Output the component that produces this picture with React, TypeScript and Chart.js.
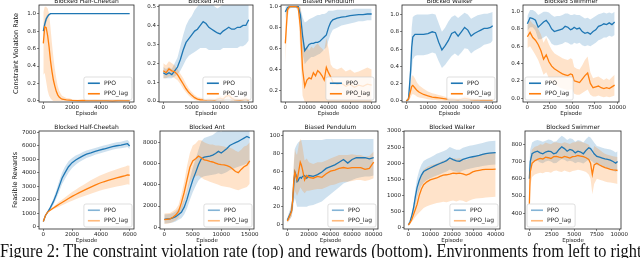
import React, { useEffect, useLayoutEffect, useRef } from 'react';
import { Chart, registerables } from 'chart.js';

Chart.register(...registerables);

// ---------------- tick labels ----------------
const hcEpTicks = [0, 2000, 4000, 6000];
const antEpTicks = [0, 5000, 10000, 15000];
const penEpTicks = [0, 20000, 40000, 60000, 80000];
const walkEpTicks = [0, 10000, 20000, 30000, 40000];
const swimEpTicks = [0, 2500, 5000, 7500, 10000];
const rateTicks = [0, 0.2, 0.4, 0.6, 0.8, 1.0];
const antRateTicks = [0, 0.1, 0.2, 0.3, 0.4, 0.5];
const penRateTicks = [0.2, 0.4, 0.6, 0.8, 1.0];
const hcRewTicks = [0, 1000, 2000, 3000, 4000, 5000, 6000, 7000];
const antRewTicks = [0, 2000, 4000, 6000, 8000];
const penRewTicks = [0, 20, 40, 60, 80, 100];
const walkRewTicks = [0, 500, 1000, 1500, 2000, 2500, 3000];
const swimRewTicks = [400, 500, 600, 700, 800];

const seriesNames = ['PPO', 'PPO_lag'];
const captionText = 'Figure 2: The constraint violation rate (top) and rewards (bottom). Environments from left to right:';

// ---------------- Blocked Half-Cheetah: violation rate ----------------
const hcRateEp = [0, 100, 200, 300, 400, 500, 600, 700, 800, 900, 1000, 1100, 1200, 1300, 1400, 1600, 1800, 2000, 2400, 2800, 3200, 3600, 4000, 4400, 4800, 5200, 5600, 6000];
const hcRatePPO = [0.80, 0.88, 0.94, 0.97, 0.99, 1, 1, 1, 1, 1, 1, 1, 1, 1, 1, 1, 1, 1, 1, 1, 1, 1, 1, 1, 1, 1, 1, 1];
const hcRatePPOLo = [0.72, 0.82, 0.90, 0.95, 0.98, 0.995, 1, 1, 1, 1, 1, 1, 1, 1, 1, 1, 1, 1, 1, 1, 1, 1, 1, 1, 1, 1, 1, 1];
const hcRatePPOHi = [0.88, 0.93, 0.97, 0.99, 1, 1, 1, 1, 1, 1, 1, 1, 1, 1, 1, 1, 1, 1, 1, 1, 1, 1, 1, 1, 1, 1, 1, 1];
const hcRateLag = [0.66, 0.85, 0.84, 0.75, 0.62, 0.46, 0.34, 0.24, 0.17, 0.11, 0.07, 0.045, 0.03, 0.02, 0.018, 0.012, 0.01, 0.006, 0.004, 0.005, 0.003, 0.006, 0.003, 0.004, 0.002, 0.005, 0.003, 0.004];
const hcRateLagLo = [0.30, 0.32, 0.22, 0.12, 0.06, 0.03, 0.01, 0, 0, 0, 0, 0, 0, 0, 0, 0, 0, 0, 0, 0, 0, 0, 0, 0, 0, 0, 0, 0];
const hcRateLagHi = [1.02, 1.08, 1.08, 1.06, 1.0, 0.84, 0.66, 0.50, 0.37, 0.26, 0.17, 0.12, 0.085, 0.06, 0.05, 0.035, 0.03, 0.02, 0.015, 0.015, 0.01, 0.015, 0.01, 0.012, 0.01, 0.012, 0.01, 0.012];

// ---------------- Blocked Ant: violation rate ----------------
const antRateEp = [0, 500, 1000, 1500, 2000, 2500, 3000, 3500, 4000, 4500, 5000, 5500, 6000, 6500, 7000, 7500, 8000, 8500, 9000, 9500, 10000, 10500, 11000, 11500, 12000, 12500, 13000, 13500, 14000, 14500, 15000];
const antRatePPO = [0.15, 0.14, 0.15, 0.14, 0.16, 0.18, 0.22, 0.27, 0.31, 0.33, 0.35, 0.37, 0.38, 0.40, 0.42, 0.41, 0.39, 0.38, 0.37, 0.36, 0.355, 0.37, 0.38, 0.39, 0.38, 0.38, 0.39, 0.39, 0.40, 0.40, 0.43];
const antRatePPOLo = [0.12, 0.12, 0.12, 0.12, 0.13, 0.14, 0.16, 0.19, 0.22, 0.24, 0.25, 0.26, 0.27, 0.28, 0.28, 0.28, 0.27, 0.27, 0.27, 0.27, 0.27, 0.28, 0.28, 0.28, 0.28, 0.28, 0.28, 0.29, 0.29, 0.30, 0.32];
const antRatePPOHi = [0.18, 0.17, 0.18, 0.17, 0.20, 0.23, 0.29, 0.35, 0.40, 0.43, 0.45, 0.48, 0.50, 0.52, 0.55, 0.55, 0.53, 0.52, 0.50, 0.49, 0.50, 0.51, 0.52, 0.51, 0.51, 0.52, 0.52, 0.53, 0.53, 0.54, 0.56];
const antRateLag = [0.16, 0.15, 0.17, 0.16, 0.155, 0.14, 0.115, 0.09, 0.065, 0.045, 0.03, 0.018, 0.01, 0.007, 0.006, 0.005, 0.008, 0.006, 0.005, 0.01, 0.015, 0.01, 0.025, 0.03, 0.015, 0.008, 0.006, 0.005, 0.008, 0.01, 0.005];
const antRateLagLo = [0.12, 0.12, 0.13, 0.13, 0.12, 0.11, 0.09, 0.065, 0.045, 0.028, 0.015, 0.006, 0.002, 0, 0, 0, 0, 0, 0, 0, 0, 0, 0.005, 0.008, 0, 0, 0, 0, 0, 0, 0];
const antRateLagHi = [0.20, 0.19, 0.21, 0.20, 0.19, 0.17, 0.145, 0.12, 0.09, 0.065, 0.048, 0.032, 0.022, 0.018, 0.016, 0.014, 0.02, 0.017, 0.014, 0.022, 0.03, 0.024, 0.045, 0.05, 0.03, 0.02, 0.017, 0.014, 0.02, 0.022, 0.014];

// ---------------- Biased Pendulum: violation rate ----------------
const penRateEp = [0, 2000, 4000, 6000, 8000, 10000, 12000, 14000, 16000, 18000, 20000, 22000, 24000, 26000, 28000, 30000, 32000, 34000, 36000, 38000, 40000, 42000, 44000, 48000, 52000, 56000, 60000, 64000, 68000, 72000, 76000, 80000];
const penRatePPO = [0.95, 0.99, 1.0, 1.0, 1.0, 1.0, 1.0, 0.92, 0.72, 0.58, 0.61, 0.64, 0.65, 0.65, 0.66, 0.66, 0.67, 0.69, 0.71, 0.73, 0.80, 0.85, 0.875, 0.89, 0.90, 0.905, 0.915, 0.92, 0.925, 0.925, 0.93, 0.93];
const penRatePPOLo = [0.88, 0.96, 0.99, 0.99, 0.99, 0.99, 0.97, 0.80, 0.55, 0.45, 0.48, 0.50, 0.52, 0.52, 0.53, 0.54, 0.55, 0.57, 0.59, 0.61, 0.68, 0.74, 0.78, 0.80, 0.82, 0.83, 0.84, 0.85, 0.86, 0.86, 0.87, 0.87];
const penRatePPOHi = [1.0, 1.01, 1.01, 1.01, 1.01, 1.01, 1.01, 0.99, 0.90, 0.85, 0.86, 0.88, 0.89, 0.90, 0.91, 0.92, 0.92, 0.93, 0.93, 0.94, 0.96, 0.96, 0.96, 0.97, 0.97, 0.97, 0.97, 0.98, 0.98, 0.98, 0.98, 0.98];
const penRateLag = [0.65, 0.97, 1.0, 1.0, 1.0, 1.0, 0.99, 0.80, 0.40, 0.24, 0.30, 0.32, 0.31, 0.37, 0.34, 0.39, 0.37, 0.34, 0.30, 0.42, 0.37, 0.33, 0.28, 0.26, 0.27, 0.24, 0.26, 0.23, 0.25, 0.24, 0.26, 0.25];
const penRateLagLo = [0.45, 0.90, 0.98, 0.99, 0.99, 0.99, 0.95, 0.55, 0.15, 0.09, 0.08, 0.08, 0.08, 0.08, 0.08, 0.08, 0.08, 0.08, 0.08, 0.08, 0.08, 0.08, 0.08, 0.08, 0.08, 0.08, 0.08, 0.08, 0.08, 0.08, 0.08, 0.08];
const penRateLagHi = [0.85, 1.01, 1.01, 1.01, 1.01, 1.01, 1.01, 1.0, 0.80, 0.60, 0.62, 0.58, 0.62, 0.60, 0.63, 0.65, 0.62, 0.60, 0.58, 0.70, 0.60, 0.45, 0.42, 0.40, 0.42, 0.38, 0.40, 0.37, 0.38, 0.40, 0.42, 0.40];

// ---------------- Blocked Walker: violation rate ----------------
const walkRateEp = [0, 1000, 2000, 2500, 3000, 4000, 5000, 6000, 8000, 10000, 12000, 13500, 15000, 16500, 18000, 19500, 21000, 22500, 24000, 25500, 27000, 28500, 30000, 31500, 33000, 34500, 36000, 37500, 39000, 40000];
const walkRatePPO = [0.0, 0.02, 0.35, 0.62, 0.74, 0.77, 0.77, 0.77, 0.77, 0.78, 0.80, 0.79, 0.68, 0.59, 0.64, 0.70, 0.78, 0.80, 0.75, 0.80, 0.85, 0.82, 0.75, 0.78, 0.80, 0.82, 0.84, 0.84, 0.85, 0.87];
const walkRatePPOLo = [0, 0, 0.15, 0.35, 0.48, 0.52, 0.53, 0.53, 0.53, 0.54, 0.56, 0.55, 0.46, 0.38, 0.42, 0.47, 0.52, 0.55, 0.52, 0.56, 0.61, 0.60, 0.55, 0.58, 0.60, 0.62, 0.65, 0.66, 0.67, 0.70];
const walkRatePPOHi = [0.01, 0.05, 0.55, 0.85, 0.97, 0.99, 1.0, 1.0, 1.0, 1.0, 1.01, 1.0, 0.90, 0.80, 0.85, 0.92, 0.97, 0.99, 0.96, 0.99, 1.02, 1.0, 0.95, 0.97, 0.99, 1.0, 1.01, 1.01, 1.02, 1.03];
const walkRateLag = [0.0, 0.02, 0.12, 0.17, 0.18, 0.15, 0.12, 0.10, 0.075, 0.06, 0.045, 0.04, 0.035, 0.03, 0.025, 0.02, 0.02, 0.018, 0.015, 0.02, 0.03, 0.025, 0.015, 0.012, 0.015, 0.01, 0.012, 0.01, 0.012, 0.01];
const walkRateLagLo = [0, 0, 0.04, 0.07, 0.08, 0.07, 0.05, 0.04, 0.03, 0.02, 0.01, 0.01, 0.005, 0.005, 0, 0, 0, 0, 0, 0, 0, 0, 0, 0, 0, 0, 0, 0, 0, 0];
const walkRateLagHi = [0.01, 0.05, 0.20, 0.28, 0.30, 0.26, 0.21, 0.18, 0.14, 0.11, 0.09, 0.08, 0.07, 0.06, 0.05, 0.045, 0.04, 0.04, 0.035, 0.04, 0.055, 0.05, 0.035, 0.03, 0.03, 0.025, 0.025, 0.02, 0.025, 0.02];

// ---------------- Blocked Swimmer: violation rate ----------------
const swimRateEp = [0, 300, 600, 900, 1200, 1500, 1800, 2100, 2400, 2700, 3000, 3300, 3600, 3900, 4200, 4500, 4800, 5000, 5200, 5500, 5800, 6100, 6400, 6700, 7000, 7300, 7600, 7900, 8200, 8500, 8800, 9100, 9400, 9700];
const swimRatePPO = [0.86, 0.93, 0.92, 0.90, 0.82, 0.85, 0.88, 0.90, 0.86, 0.80, 0.77, 0.78, 0.79, 0.80, 0.83, 0.82, 0.79, 0.80, 0.82, 0.80, 0.81, 0.77, 0.75, 0.76, 0.74, 0.77, 0.79, 0.83, 0.84, 0.86, 0.85, 0.87, 0.85, 0.88];
const swimRatePPOLo = [0.78, 0.82, 0.82, 0.78, 0.68, 0.68, 0.70, 0.72, 0.68, 0.63, 0.61, 0.61, 0.62, 0.63, 0.65, 0.64, 0.62, 0.62, 0.64, 0.63, 0.64, 0.61, 0.60, 0.61, 0.60, 0.62, 0.64, 0.67, 0.68, 0.70, 0.70, 0.72, 0.71, 0.73];
const swimRatePPOHi = [0.95, 1.02, 1.02, 1.0, 0.96, 0.98, 1.0, 1.0, 0.99, 0.96, 0.94, 0.95, 0.95, 0.96, 0.98, 0.98, 0.96, 0.96, 0.97, 0.96, 0.96, 0.94, 0.92, 0.93, 0.91, 0.93, 0.95, 0.97, 0.98, 0.99, 0.98, 0.99, 0.98, 1.0];
const swimRateLag = [0.71, 0.76, 0.70, 0.67, 0.62, 0.55, 0.45, 0.50, 0.42, 0.37, 0.34, 0.32, 0.30, 0.28, 0.27, 0.26, 0.28, 0.27, 0.20, 0.19, 0.18, 0.22, 0.26, 0.29, 0.17, 0.12, 0.13, 0.14, 0.12, 0.11, 0.12, 0.11, 0.13, 0.15];
const swimRateLagLo = [0.58, 0.60, 0.55, 0.50, 0.44, 0.36, 0.27, 0.30, 0.23, 0.19, 0.16, 0.14, 0.12, 0.11, 0.10, 0.09, 0.10, 0.10, 0.05, 0.04, 0.04, 0.06, 0.08, 0.10, 0.04, 0.02, 0.02, 0.03, 0.02, 0.01, 0.02, 0.01, 0.02, 0.03];
const swimRateLagHi = [0.84, 0.90, 0.86, 0.84, 0.80, 0.74, 0.64, 0.70, 0.62, 0.56, 0.52, 0.50, 0.48, 0.46, 0.45, 0.44, 0.46, 0.45, 0.36, 0.34, 0.33, 0.38, 0.44, 0.48, 0.30, 0.23, 0.24, 0.25, 0.23, 0.21, 0.23, 0.21, 0.24, 0.27];

// ---------------- Blocked Half-Cheetah: rewards ----------------
const hcRewEp = [0, 150, 300, 500, 700, 900, 1100, 1300, 1500, 1750, 2000, 2250, 2500, 2750, 3000, 3300, 3600, 3900, 4200, 4500, 4800, 5100, 5400, 5700, 5850, 6000];
const hcRewPPO = [400, 850, 1100, 1450, 1870, 2400, 3000, 3600, 4000, 4450, 4750, 4950, 5100, 5250, 5380, 5470, 5580, 5680, 5760, 5850, 5930, 6000, 6050, 6120, 6150, 5980];
const hcRewPPOLo = [350, 780, 1030, 1300, 1650, 2100, 2600, 3150, 3550, 4000, 4350, 4600, 4800, 4950, 5100, 5200, 5330, 5430, 5520, 5620, 5700, 5780, 5820, 5880, 5900, 5750];
const hcRewPPOHi = [450, 920, 1170, 1600, 2100, 2700, 3400, 4000, 4450, 4850, 5100, 5280, 5400, 5530, 5650, 5740, 5830, 5930, 6010, 6100, 6180, 6250, 6300, 6380, 6420, 6250];
const hcRewLag = [400, 850, 1100, 1260, 1400, 1540, 1680, 1810, 1940, 2100, 2260, 2400, 2540, 2670, 2800, 2950, 3090, 3230, 3340, 3440, 3540, 3630, 3710, 3790, 3850, 3820];
const hcRewLagLo = [370, 800, 1050, 1190, 1300, 1400, 1500, 1600, 1700, 1820, 1940, 2050, 2150, 2250, 2350, 2450, 2560, 2670, 2760, 2840, 2920, 2990, 3050, 3110, 3160, 3120];
const hcRewLagHi = [430, 900, 1150, 1330, 1500, 1680, 1860, 2020, 2180, 2380, 2580, 2750, 2930, 3090, 3250, 3450, 3620, 3790, 3920, 4040, 4160, 4270, 4370, 4470, 4540, 4520];

// ---------------- Blocked Ant: rewards ----------------
const antRewEp = [0, 500, 1000, 1500, 2000, 2500, 3000, 3500, 4000, 4500, 5000, 5500, 6000, 6500, 7000, 7500, 8000, 8500, 9000, 9500, 10000, 10500, 11000, 11500, 12000, 12500, 13000, 13500, 14000, 14500, 15000];
const antRewPPO = [750, 780, 800, 880, 1000, 1200, 1420, 1900, 2650, 3600, 4450, 5150, 5900, 6450, 6600, 6650, 6700, 6800, 6950, 7150, 7000, 7200, 7420, 7700, 7850, 7980, 8100, 8250, 8400, 8550, 8420];
const antRewPPOLo = [350, 380, 400, 450, 550, 700, 850, 1200, 1800, 2600, 3300, 3900, 4400, 4700, 4800, 4850, 4900, 4950, 5000, 5100, 5000, 5100, 5200, 5400, 5500, 5600, 5700, 5800, 5900, 6000, 5900];
const antRewPPOHi = [1200, 1220, 1250, 1350, 1500, 1750, 2050, 2650, 3500, 4600, 5600, 6400, 7300, 8100, 8400, 8500, 8600, 8700, 8900, 9100, 9000, 9200, 9300, 9400, 9500, 9500, 9500, 9500, 9500, 9500, 9500];
const antRewLag = [730, 760, 800, 950, 1150, 1500, 2300, 3300, 4500, 5650, 6250, 6450, 6700, 6550, 6350, 6300, 6200, 6150, 6050, 5950, 5900, 5880, 5800, 5700, 5500, 5250, 5150, 5450, 5700, 5850, 6250];
const antRewLagLo = [300, 330, 380, 500, 650, 900, 1500, 2300, 3300, 4200, 4700, 4800, 4900, 4700, 4500, 4400, 4300, 4200, 4100, 4000, 3900, 3850, 3800, 3750, 3650, 3550, 3500, 3600, 3700, 3800, 4100];
const antRewLagHi = [1300, 1320, 1350, 1500, 1700, 2100, 3100, 4300, 5800, 7000, 7700, 7900, 8200, 8200, 8000, 7900, 7800, 7800, 7700, 7700, 7650, 7600, 7550, 7500, 7400, 7200, 7100, 7300, 7600, 7700, 8000];

// ---------------- Biased Pendulum: rewards ----------------
const penRewEp = [0, 2000, 4000, 5000, 6000, 7000, 8000, 9000, 10000, 11000, 12000, 13000, 14000, 16000, 18000, 20000, 24000, 28000, 32000, 36000, 40000, 44000, 48000, 52000, 56000, 60000, 64000, 68000, 72000, 76000, 80000];
const penRewPPO = [5, 10, 16, 27, 45, 59, 56, 48, 49, 52, 53, 52, 54, 55, 52, 55, 54, 56, 59, 63, 65, 67, 70, 73, 69, 73, 75, 75, 75, 73.7, 75];
const penRewPPOLo = [2, 5, 9, 15, 25, 30, 25, 20, 20, 20, 20, 20, 20, 20, 20, 21, 22, 24, 26, 30, 34, 38, 42, 46, 48, 50, 52, 53, 54, 54, 55];
const penRewPPOHi = [8, 15, 24, 40, 66, 85, 88, 90, 92, 93, 94, 95, 95, 95, 95, 95, 95, 95, 95, 96, 96, 96, 96, 96, 96, 96, 96, 96, 96, 96, 96];
const penRewLag = [4, 9, 15, 28, 50, 59, 54, 50, 56, 63, 70, 67, 62, 50, 55, 53, 52, 54, 53, 57, 60, 61, 63, 64, 63, 64, 64, 64, 62, 63, 70];
const penRewLagLo = [2, 5, 9, 18, 32, 38, 35, 32, 35, 38, 42, 40, 38, 35, 38, 38, 39, 40, 40, 42, 44, 45, 47, 48, 48, 49, 50, 50, 49, 50, 52];
const penRewLagHi = [7, 13, 22, 40, 70, 85, 80, 78, 85, 92, 96, 94, 88, 72, 74, 70, 68, 70, 70, 72, 74, 76, 78, 78, 78, 79, 78, 78, 76, 77, 82];

// ---------------- Blocked Walker: rewards ----------------
const walkRewEp = [0, 800, 1600, 2400, 3200, 4000, 5000, 6000, 7000, 8500, 10000, 11500, 13000, 14500, 16000, 17500, 19000, 20500, 22000, 23500, 25000, 26500, 28000, 29500, 31000, 32500, 34000, 35500, 37000, 38500, 40000];
const walkRewPPO = [80, 190, 380, 620, 950, 1240, 1470, 1630, 1740, 1800, 1850, 1900, 1950, 1990, 2030, 2080, 2160, 2110, 2070, 2060, 2120, 2150, 2180, 2200, 2220, 2240, 2270, 2300, 2310, 2320, 2330];
const walkRewPPOLo = [60, 150, 300, 480, 720, 950, 1150, 1300, 1400, 1480, 1530, 1580, 1620, 1660, 1700, 1740, 1800, 1760, 1730, 1720, 1770, 1800, 1830, 1850, 1870, 1890, 1910, 1930, 1940, 1950, 1960];
const walkRewPPOHi = [100, 230, 460, 760, 1180, 1530, 1790, 1960, 2070, 2130, 2180, 2230, 2290, 2330, 2370, 2420, 2500, 2460, 2420, 2420, 2480, 2510, 2540, 2560, 2580, 2600, 2630, 2660, 2680, 2690, 2700];
const walkRewLag = [80, 150, 260, 410, 560, 720, 1000, 1200, 1330, 1420, 1480, 1510, 1540, 1590, 1630, 1640, 1660, 1690, 1680, 1690, 1670, 1630, 1670, 1730, 1760, 1780, 1800, 1810, 1810, 1810, 1815];
const walkRewLagLo = [60, 110, 170, 250, 330, 400, 470, 540, 610, 660, 700, 730, 760, 780, 800, 790, 820, 840, 810, 850, 830, 790, 840, 880, 900, 910, 920, 930, 940, 950, 960];
const walkRewLagHi = [100, 190, 350, 570, 790, 1020, 1400, 1650, 1800, 1880, 1930, 1960, 1990, 2040, 2080, 2100, 2120, 2150, 2140, 2150, 2130, 2100, 2140, 2200, 2230, 2260, 2290, 2310, 2320, 2330, 2340];

// ---------------- Blocked Swimmer: rewards ----------------
const swimRewEp = [0, 100, 300, 600, 900, 1200, 1500, 1800, 2100, 2400, 2700, 3000, 3300, 3600, 3900, 4200, 4500, 4800, 5100, 5400, 5700, 6000, 6300, 6600, 6800, 7000, 7200, 7500, 7800, 8100, 8400, 8700, 9000, 9300, 9600, 9800];
const swimRewPPO = [600, 700, 745, 755, 760, 750, 745, 755, 760, 758, 745, 750, 770, 785, 775, 760, 770, 765, 750, 760, 755, 745, 765, 780, 775, 760, 745, 730, 725, 720, 715, 712, 708, 700, 690, 700];
const swimRewPPOLo = [500, 640, 690, 700, 705, 695, 690, 700, 705, 700, 690, 692, 705, 715, 710, 700, 705, 700, 690, 698, 695, 688, 700, 712, 708, 700, 690, 680, 675, 670, 665, 660, 655, 648, 640, 650];
const swimRewPPOHi = [700, 770, 810, 820, 825, 820, 815, 820, 828, 825, 815, 818, 835, 850, 840, 825, 835, 830, 815, 825, 820, 810, 830, 845, 840, 825, 810, 790, 785, 780, 775, 772, 770, 762, 752, 760];
const swimRewLag = [455, 640, 690, 705, 712, 718, 715, 725, 722, 718, 728, 730, 725, 722, 730, 725, 720, 728, 730, 735, 732, 728, 722, 712, 690, 625, 680, 690, 680, 672, 665, 660, 655, 652, 650, 648];
const swimRewLagLo = [400, 560, 610, 625, 630, 635, 632, 640, 640, 635, 645, 648, 642, 640, 648, 642, 638, 645, 648, 652, 650, 645, 640, 625, 600, 510, 570, 600, 595, 590, 585, 580, 578, 575, 572, 570];
const swimRewLagHi = [510, 720, 770, 785, 790, 800, 798, 810, 805, 800, 810, 812, 808, 805, 812, 808, 802, 810, 812, 818, 815, 810, 805, 798, 780, 740, 790, 780, 768, 755, 745, 740, 735, 730, 728, 726];

// ---------------- styling / layout ----------------
const FONT = "'DejaVu Sans', sans-serif";
const BLUE = '#1f77b4';
const ORANGE = '#ff7f0e';
const BLUE_BAND = 'rgba(31,119,180,0.22)';
const ORANGE_BAND = 'rgba(255,127,14,0.22)';

interface PanelCfg {
  title: string;
  xs: number[];
  ppo: number[]; ppoLo: number[]; ppoHi: number[];
  lag: number[]; lagLo: number[]; lagHi: number[];
  xMin: number; xMax: number; yMin: number; yMax: number;
  xTicks: number[]; yTicks: number[]; yDecimals: number;
  frame: [number, number, number, number];
  legendLeft: boolean;
  softLegend: boolean;
  yTitle?: string;
  yTitlePad?: number;
}

const TOP: [number, number] = [5, 102];
const BOT: [number, number] = [131, 229];

const panels: PanelCfg[] = [
  { title: 'Blocked Half-Cheetah', xs: hcRateEp, ppo: hcRatePPO, ppoLo: hcRatePPOLo, ppoHi: hcRatePPOHi, lag: hcRateLag, lagLo: hcRateLagLo, lagHi: hcRateLagHi,
    xMin: -300, xMax: 6300, yMin: -0.012, yMax: 1.1, xTicks: hcEpTicks, yTicks: rateTicks, yDecimals: 1,
    frame: [39, 134, TOP[0], TOP[1]], legendLeft: false, softLegend: false, yTitle: 'Constraint Violation Rate', yTitlePad: 13.5 },
  { title: 'Blocked Ant', xs: antRateEp, ppo: antRatePPO, ppoLo: antRatePPOLo, ppoHi: antRatePPOHi, lag: antRateLag, lagLo: antRateLagLo, lagHi: antRateLagHi,
    xMin: -750, xMax: 15750, yMin: -0.005, yMax: 0.508, xTicks: antEpTicks, yTicks: antRateTicks, yDecimals: 1,
    frame: [159, 253, TOP[0], TOP[1]], legendLeft: false, softLegend: false },
  { title: 'Biased Pendulum', xs: penRateEp, ppo: penRatePPO, ppoLo: penRatePPOLo, ppoHi: penRatePPOHi, lag: penRateLag, lagLo: penRateLagLo, lagHi: penRateLagHi,
    xMin: -4000, xMax: 84000, yMin: 0.09, yMax: 1.016, xTicks: penEpTicks, yTicks: penRateTicks, yDecimals: 1,
    frame: [281, 376, TOP[0], TOP[1]], legendLeft: false, softLegend: false },
  { title: 'Blocked Walker', xs: walkRateEp, ppo: walkRatePPO, ppoLo: walkRatePPOLo, ppoHi: walkRatePPOHi, lag: walkRateLag, lagLo: walkRateLagLo, lagHi: walkRateLagHi,
    xMin: -2000, xMax: 42000, yMin: -0.012, yMax: 1.11, xTicks: walkEpTicks, yTicks: rateTicks, yDecimals: 1,
    frame: [402, 497, TOP[0], TOP[1]], legendLeft: false, softLegend: false },
  { title: 'Blocked Swimmer', xs: swimRateEp, ppo: swimRatePPO, ppoLo: swimRatePPOLo, ppoHi: swimRatePPOHi, lag: swimRateLag, lagLo: swimRateLagLo, lagHi: swimRateLagHi,
    xMin: -485, xMax: 10185, yMin: -0.045, yMax: 1.077, xTicks: swimEpTicks, yTicks: rateTicks, yDecimals: 1,
    frame: [523, 619, TOP[0], TOP[1]], legendLeft: true, softLegend: false },
  { title: 'Blocked Half-Cheetah', xs: hcRewEp, ppo: hcRewPPO, ppoLo: hcRewPPOLo, ppoHi: hcRewPPOHi, lag: hcRewLag, lagLo: hcRewLagLo, lagHi: hcRewLagHi,
    xMin: -300, xMax: 6300, yMin: -150, yMax: 7090, xTicks: hcEpTicks, yTicks: hcRewTicks, yDecimals: 0,
    frame: [39, 134, BOT[0], BOT[1]], legendLeft: false, softLegend: true, yTitle: 'Feasible Rewards', yTitlePad: 12.3 },
  { title: 'Blocked Ant', xs: antRewEp, ppo: antRewPPO, ppoLo: antRewPPOLo, ppoHi: antRewPPOHi, lag: antRewLag, lagLo: antRewLagLo, lagHi: antRewLagHi,
    xMin: -750, xMax: 15750, yMin: -160, yMax: 9070, xTicks: antEpTicks, yTicks: antRewTicks, yDecimals: 0,
    frame: [160, 254, BOT[0], BOT[1]], legendLeft: false, softLegend: true },
  { title: 'Biased Pendulum', xs: penRewEp, ppo: penRewPPO, ppoLo: penRewPPOLo, ppoHi: penRewPPOHi, lag: penRewLag, lagLo: penRewLagLo, lagHi: penRewLagHi,
    xMin: -4000, xMax: 84000, yMin: -5, yMax: 105, xTicks: penEpTicks, yTicks: penRewTicks, yDecimals: 0,
    frame: [283, 378, BOT[0], BOT[1]], legendLeft: false, softLegend: true },
  { title: 'Blocked Walker', xs: walkRewEp, ppo: walkRewPPO, ppoLo: walkRewPPOLo, ppoHi: walkRewPPOHi, lag: walkRewLag, lagLo: walkRewLagLo, lagHi: walkRewLagHi,
    xMin: -2000, xMax: 42000, yMin: -45, yMax: 3000, xTicks: walkEpTicks, yTicks: walkRewTicks, yDecimals: 0,
    frame: [404, 500, BOT[0], BOT[1]], legendLeft: false, softLegend: true },
  { title: 'Blocked Swimmer', xs: swimRewEp, ppo: swimRewPPO, ppoLo: swimRewPPOLo, ppoHi: swimRewPPOHi, lag: swimRewLag, lagLo: swimRewLagLo, lagHi: swimRewLagHi,
    xMin: -485, xMax: 10185, yMin: 309, yMax: 877, xTicks: swimEpTicks, yTicks: swimRewTicks, yDecimals: 0,
    frame: [525, 621, BOT[0], BOT[1]], legendLeft: true, softLegend: true },
];

const T = 8;
const B = 15;
const R = 12;

function PanelChart({ cfg }: { cfg: PanelCfg }) {
  const ref = useRef<HTMLCanvasElement | null>(null);
  const [x0, x1, y0, y1] = cfg.frame;
  const L = cfg.yTitle ? x0 : 26;
  const W = x1 - x0 + L + R;
  const H = y1 - y0 + T + B;

  useEffect(() => {
    const canvas = ref.current;
    if (!canvas) return;
    const pts = (ys: number[]) => cfg.xs.map((x, i) => ({ x, y: ys[i] }));

    const framePlugin = {
      id: 'frameBox',
      afterDatasetsDraw(chart: any) {
        const { ctx, chartArea: a } = chart;
        ctx.save();
        ctx.strokeStyle = '#262626';
        ctx.lineWidth = 0.8;
        ctx.strokeRect(a.left, a.top, a.right - a.left, a.bottom - a.top);
        ctx.restore();
      },
    };

    const titlePlugin = {
      id: 'panelTitle',
      afterDraw(chart: any) {
        const { ctx, chartArea: a } = chart;
        ctx.save();
        ctx.font = `6px ${FONT}`;
        ctx.fillStyle = '#111';
        ctx.textAlign = 'center';
        ctx.textBaseline = 'middle';
        ctx.fillText(cfg.title, (a.left + a.right) / 2, a.top - 3.4);
        ctx.restore();
      },
    };

    const legendPlugin = {
      id: 'innerLegend',
      afterDatasetsDraw(chart: any) {
        const { ctx, chartArea: a } = chart;
        ctx.save();
        ctx.font = `6px ${FONT}`;
        const tw = Math.max(...seriesNames.map((s) => ctx.measureText(s).width));
        const pad = 4, lineLen = 12, gap = 4, rowH = 10.5, m = 2;
        const w = pad + lineLen + gap + tw + pad;
        const h = rowH * 2 + 2;
        const bx = cfg.legendLeft ? a.left + m : a.right - m - w;
        const by = a.bottom - m - h;
        ctx.beginPath();
        if ((ctx as any).roundRect) (ctx as any).roundRect(bx, by, w, h, 2);
        else ctx.rect(bx, by, w, h);
        ctx.fillStyle = 'rgba(255,255,255,0.8)';
        ctx.fill();
        ctx.strokeStyle = 'rgba(204,204,204,0.9)';
        ctx.lineWidth = 0.7;
        ctx.stroke();
        const cols = cfg.softLegend
          ? ['rgba(31,119,180,0.55)', 'rgba(255,127,14,0.55)']
          : [BLUE, ORANGE];
        seriesNames.forEach((name, i) => {
          const cy = by + 1 + rowH * (i + 0.5);
          ctx.beginPath();
          ctx.moveTo(bx + pad, cy);
          ctx.lineTo(bx + pad + lineLen, cy);
          ctx.strokeStyle = cols[i];
          ctx.lineWidth = 1.6;
          ctx.stroke();
          ctx.fillStyle = '#222';
          ctx.textAlign = 'left';
          ctx.textBaseline = 'middle';
          ctx.fillText(name, bx + pad + lineLen + gap, cy);
        });
        ctx.restore();
      },
    };

    const tickFont = { size: 5.5, family: FONT, lineHeight: 1 };
    const gridCfg = { drawOnChartArea: false, drawTicks: true, tickLength: 2, color: '#333', lineWidth: 0.6 };

    const chart = new Chart(canvas, {
      type: 'line',
      data: {
        datasets: [
          { label: 'PPO_lag', data: pts(cfg.lag), borderColor: ORANGE, borderWidth: 1.3, pointRadius: 0, fill: false, tension: 0 },
          { label: 'PPO', data: pts(cfg.ppo), borderColor: BLUE, borderWidth: 1.3, pointRadius: 0, fill: false, tension: 0 },
          { label: 'PPO_lag hi', data: pts(cfg.lagHi), borderColor: 'rgba(0,0,0,0)', borderWidth: 0, pointRadius: 0, backgroundColor: ORANGE_BAND, fill: '+1', tension: 0 },
          { label: 'PPO_lag lo', data: pts(cfg.lagLo), borderColor: 'rgba(0,0,0,0)', borderWidth: 0, pointRadius: 0, fill: false, tension: 0 },
          { label: 'PPO hi', data: pts(cfg.ppoHi), borderColor: 'rgba(0,0,0,0)', borderWidth: 0, pointRadius: 0, backgroundColor: BLUE_BAND, fill: '+1', tension: 0 },
          { label: 'PPO lo', data: pts(cfg.ppoLo), borderColor: 'rgba(0,0,0,0)', borderWidth: 0, pointRadius: 0, fill: false, tension: 0 },
        ],
      },
      options: {
        responsive: false,
        animation: false,
        devicePixelRatio: 1,
        events: [],
        layout: { padding: { left: 0, top: T, right: R, bottom: 0 } },
        plugins: { legend: { display: false }, tooltip: { enabled: false }, title: { display: false } },
        scales: {
          x: {
            type: 'linear',
            min: cfg.xMin,
            max: cfg.xMax,
            afterBuildTicks: (s: any) => { s.ticks = cfg.xTicks.map((v) => ({ value: v })); },
            afterFit: (s: any) => { s.height = B; s.paddingLeft = 0; s.paddingRight = 0; },
            ticks: { autoSkip: false, maxRotation: 0, minRotation: 0, padding: 0.5, font: tickFont, color: '#222', callback: (v: any) => String(v) },
            grid: gridCfg,
            border: { display: false },
            title: { display: true, text: 'Episode', font: tickFont, color: '#222', padding: { top: 0, bottom: 1 } },
          },
          y: {
            type: 'linear',
            min: cfg.yMin,
            max: cfg.yMax,
            afterBuildTicks: (s: any) => { s.ticks = cfg.yTicks.map((v) => ({ value: v })); },
            afterFit: (s: any) => { s.width = L; s.paddingTop = 0; s.paddingBottom = 0; },
            ticks: {
              autoSkip: false, padding: 1, font: tickFont, color: '#222',
              callback: (v: any) => (cfg.yDecimals ? Number(v).toFixed(cfg.yDecimals) : String(v)),
            },
            grid: gridCfg,
            border: { display: false },
            title: cfg.yTitle
              ? { display: true, text: cfg.yTitle, font: { size: 6.5, family: FONT, lineHeight: 1 }, color: '#111', padding: { top: cfg.yTitlePad || 12, bottom: 0 } }
              : { display: false },
          },
        },
      } as any,
      plugins: [framePlugin, titlePlugin, legendPlugin],
    });
    return () => chart.destroy();
  }, [cfg]);

  return (
    <canvas
      ref={ref}
      width={W}
      height={H}
      style={{ position: 'absolute', left: x0 - L, top: y0 - T, width: W, height: H }}
    />
  );
}

function Caption() {
  const ref = useRef<HTMLDivElement | null>(null);
  useLayoutEffect(() => {
    const el = ref.current;
    if (!el) return;
    el.style.transform = 'none';
    const w = el.getBoundingClientRect().width;
    if (w > 0) el.style.transform = `scaleX(${646 / w})`;
  }, []);
  return (
    <div
      ref={ref}
      style={{
        position: 'absolute', left: 0, top: 241, fontFamily: "'Liberation Serif', 'Times New Roman', serif",
        fontSize: 19, lineHeight: '19px', whiteSpace: 'nowrap', transformOrigin: '0 0', color: '#111',
      }}
    >
      {captionText}
    </div>
  );
}

export default function App() {
  return (
    <div style={{ position: 'absolute', left: 0, top: 0, width: 640, height: 258, overflow: 'hidden', background: '#fff' }}>
      {panels.map((p, i) => (
        <PanelChart key={i} cfg={p} />
      ))}
      <Caption />
    </div>
  );
}
